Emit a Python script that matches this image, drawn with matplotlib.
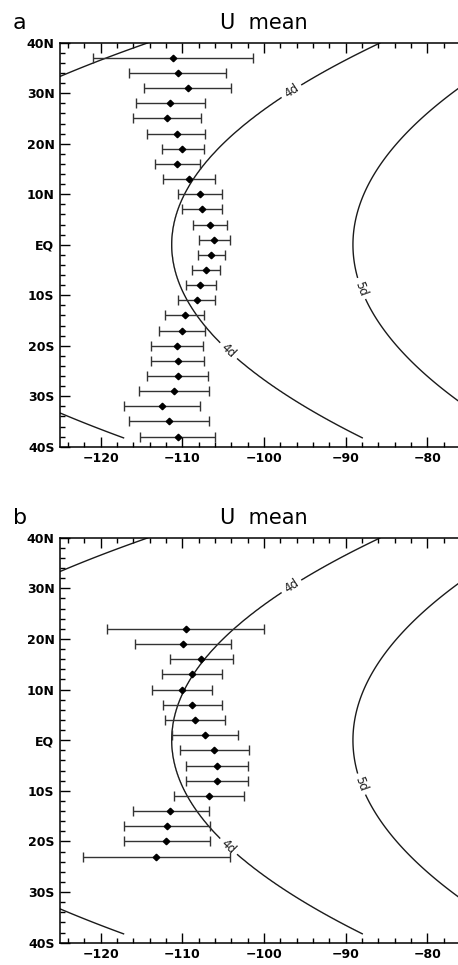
import numpy as np
import matplotlib.pyplot as plt
from matplotlib.ticker import MultipleLocator

# panel a: latitude, mean U and the ends of the error bar
lat_a = [37, 34, 31, 28, 25, 22, 19, 16, 13, 10, 7, 4, 1,
         -2, -5, -8, -11, -14, -17, -20, -23, -26, -29, -32, -35, -38]
u_a = [-111.1, -110.6, -109.3, -111.5, -111.9, -110.7, -110.0, -110.7, -109.2, -107.9, -107.6, -106.6, -106.1,
       -106.5, -107.1, -107.8, -108.2, -109.7, -110.0, -110.7, -110.6, -110.5, -111.0, -112.5, -111.7, -110.6]
lo_a = [-120.9, -116.6, -114.7, -115.7, -116.0, -114.3, -112.5, -113.4, -112.4, -110.6, -110.0, -108.7, -108.0,
        -108.1, -108.8, -109.6, -110.5, -112.1, -112.9, -113.8, -113.8, -114.3, -115.3, -117.1, -116.6, -115.2]
hi_a = [-101.3, -104.7, -104.1, -107.2, -107.7, -107.2, -107.3, -107.9, -106.0, -105.2, -105.2, -104.5, -104.2,
        -104.8, -105.4, -105.9, -106.0, -107.3, -107.2, -107.5, -107.4, -106.9, -106.7, -107.9, -106.7, -106.0]

# panel b
lat_b = [22, 19, 16, 13, 10, 7, 4, 1, -2, -5, -8, -11, -14, -17, -20, -23]
u_b = [-109.5, -109.9, -107.7, -108.8, -110.0, -108.8, -108.4, -107.2,
       -106.1, -105.7, -105.8, -106.8, -111.5, -111.9, -112.0, -113.2]
lo_b = [-119.2, -115.8, -111.5, -112.5, -113.7, -112.4, -112.1, -111.3,
        -110.3, -109.6, -109.6, -111.0, -116.1, -117.1, -117.2, -122.2]
hi_b = [-100.0, -104.1, -103.8, -105.1, -106.4, -105.2, -104.8, -103.2,
        -101.8, -101.9, -101.9, -102.5, -106.7, -106.6, -106.6, -104.2]

# arrival time contours (days): longitude at the equator and how fast each bends east with latitude
days = [3, 4, 5]
day_lon_eq = [-149.0, -111.3, -89.1]
day_bend = [1.36, 1.0, 0.85]
bend_coef = [0.01567, 2.08e-7]  # lat^2, lat^4
field_lat = (-38.3, 40.0)
label_pos = [(-96.6, 30.3), (-104.1, -20.6), (-88.1, -8.7)]

yticks = [-40, -30, -20, -10, 0, 10, 20, 30, 40]
ylabels = ['40S', '30S', '20S', '10S', 'EQ', '10N', '20N', '30N', '40N']
xticks = [-120, -110, -100, -90, -80]


def day_field():
    lon = np.linspace(-125, -74, 400)
    la = np.linspace(field_lat[0], field_lat[1], 400)
    LON, LAT = np.meshgrid(lon, la)
    w = bend_coef[0] * LAT ** 2 + bend_coef[1] * LAT ** 4
    c3, c4, c5 = [x0 + b * w for x0, b in zip(day_lon_eq, day_bend)]
    T = np.where(LON < c4, days[0] + (LON - c3) / (c4 - c3), days[1] + (LON - c4) / (c5 - c4))
    return LON, LAT, T


def draw_panel(ax, lat, u, lo, hi, letter):
    LON, LAT, T = day_field()
    ax.contour(LON, LAT, T, levels=days[:1], colors='#1a1a1a', linewidths=1.0)
    cs = ax.contour(LON, LAT, T, levels=days[1:], colors='#1a1a1a', linewidths=1.0)
    ax.clabel(cs, manual=label_pos, fmt='%dd', inline=True, fontsize=8.5, inline_spacing=4)

    u = np.array(u)
    xerr = [u - np.array(lo), np.array(hi) - u]
    ax.errorbar(u, lat, xerr=xerr, fmt='D', color='black', ecolor='#333333',
                markersize=3.3, elinewidth=1.0, capsize=3.5, capthick=1.0)

    ax.set_xlim(-125, -75)
    ax.set_ylim(-40, 40)
    ax.set_xticks(xticks)
    ax.set_xticklabels([str(x).replace('-', '\u2212') for x in xticks])
    ax.set_yticks(yticks)
    ax.set_yticklabels(ylabels)
    ax.xaxis.set_minor_locator(MultipleLocator(2))
    ax.yaxis.set_minor_locator(MultipleLocator(2))
    ax.tick_params(which='both', direction='in', top=True, right=False, width=1)
    ax.tick_params(which='major', length=7, labelsize=9, pad=4)
    ax.tick_params(which='minor', length=3.5)
    for lab in ax.get_xticklabels() + ax.get_yticklabels():
        lab.set_fontweight('bold')
    for s in ax.spines.values():
        s.set_linewidth(1.1)
    ax.spines['right'].set_visible(False)
    ax.set_title('U  mean', fontsize=15, pad=10)
    ax.text(-0.115, 1.035, letter, transform=ax.transAxes, fontsize=16, va='baseline')


fig = plt.figure(figsize=(4.58, 9.65), dpi=100)
ax_a = fig.add_axes([60 / 458, 518.3 / 965, 408 / 458, 404 / 965])
ax_b = fig.add_axes([60 / 458, 22.3 / 965, 408 / 458, 405 / 965])
draw_panel(ax_a, lat_a, u_a, lo_a, hi_a, 'a')
draw_panel(ax_b, lat_b, u_b, lo_b, hi_b, 'b')
fig.savefig('out.png', dpi=100)
